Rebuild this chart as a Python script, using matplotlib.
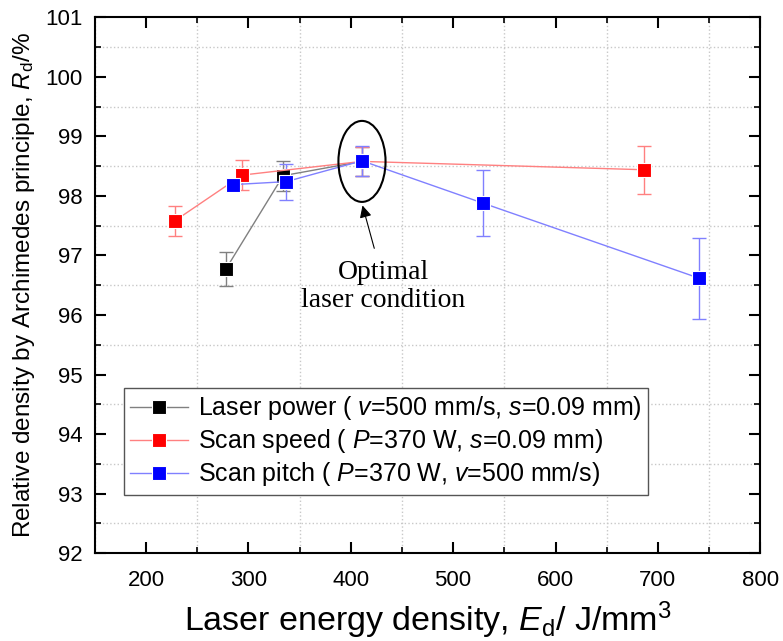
import matplotlib.pyplot as plt
import numpy as np
from matplotlib.patches import Ellipse
from matplotlib.ticker import MultipleLocator

plt.rcParams['font.family'] = ['Liberation Sans', 'DejaVu Sans']
plt.rcParams['mathtext.fontset'] = 'custom'
plt.rcParams['mathtext.it'] = 'Liberation Sans:italic'
plt.rcParams['mathtext.rm'] = 'Liberation Sans'

# Laser power series (v=500 mm/s, s=0.09 mm)
power_ed = [278, 334, 411]
power_rd = [96.77, 98.34, 98.58]
power_err = [0.28, 0.25, 0.25]

# Scan speed series (P=370 W, s=0.09 mm)
speed_ed = [228, 294, 411, 686]
speed_rd = [97.58, 98.35, 98.58, 98.44]
speed_err = [0.25, 0.25, 0.25, 0.40]

# Scan pitch series (P=370 W, v=500 mm/s)
pitch_ed = [285, 337, 411, 529, 740]
pitch_rd = [98.19, 98.24, 98.59, 97.88, 96.62]
pitch_err = [0.08, 0.30, 0.25, 0.55, 0.68]

series = [
    (power_ed, power_rd, power_err, 'black', '#808080',
     'Laser power ( $v$=500 mm/s, $s$=0.09 mm)'),
    (speed_ed, speed_rd, speed_err, 'red', '#ff8080',
     'Scan speed ( $P$=370 W, $s$=0.09 mm)'),
    (pitch_ed, pitch_rd, pitch_err, 'blue', '#8080ff',
     'Scan pitch ( $P$=370 W, $v$=500 mm/s)'),
]

fig = plt.figure(figsize=(7.83, 6.41), dpi=100)
ax = fig.add_axes([0.121, 0.137, 0.850, 0.836])

for ed, rd, err, col, light, label in series:
    ax.errorbar(ed, rd, yerr=err, fmt='none', ecolor=light, elinewidth=1,
                capsize=5, capthick=1, zorder=2)
    ax.plot(ed, rd, '-', color=light, lw=1, marker='s', markersize=10.5,
            markerfacecolor=col, markeredgecolor='white', markeredgewidth=0.8,
            label=label, zorder=3)

# highlight the optimum point
ax.add_patch(Ellipse((411, 98.58), 46, 1.36, fill=False, edgecolor='black',
                     lw=1.5, zorder=4))
ax.annotate('', xy=(411.5, 97.84), xytext=(423, 97.12),
            arrowprops=dict(arrowstyle='-|>', color='black', lw=0.8,
                            mutation_scale=18, shrinkA=0, shrinkB=0))
ax.text(432, 96.48, 'Optimal\nlaser condition', ha='center', va='center',
        fontsize=20, family='Liberation Serif', linespacing=1.15)

ax.set_xlim(150, 800)
ax.set_ylim(92, 101)
ax.xaxis.set_major_locator(MultipleLocator(100))
ax.xaxis.set_minor_locator(MultipleLocator(50))
ax.yaxis.set_major_locator(MultipleLocator(1))
ax.yaxis.set_minor_locator(MultipleLocator(0.5))
ax.set_xticks(np.arange(200, 801, 100))

ax.tick_params(which='major', direction='in', length=8, width=1.5,
               top=True, right=True, labelsize=16)
ax.tick_params(axis='x', which='major', pad=12)
ax.tick_params(axis='y', which='major', pad=9)
ax.tick_params(which='minor', direction='in', length=4.5, width=1.2,
               top=True, right=True)
for sp in ax.spines.values():
    sp.set_linewidth(1.5)

ax.grid(which='minor', linestyle=':', color='#c8c8c8', lw=1)
ax.set_axisbelow(True)

ax.set_xlabel('Laser energy density, $E_{\\mathrm{d}}$/ J/mm$^3$',
              fontsize=24.5, labelpad=6)
ax.set_ylabel('Relative density by Archimedes principle, $R_{\\mathrm{d}}$/%',
              fontsize=17.5, labelpad=6)

leg = ax.legend(loc='upper left', bbox_to_anchor=(0.044, 0.308),
                borderaxespad=0, fontsize=18, fancybox=False, framealpha=1,
                edgecolor='#555555', handlelength=2.3, handletextpad=0.4,
                borderpad=0.25, labelspacing=0.2)
leg.get_frame().set_linewidth(1)

fig.savefig('out.png', dpi=100)
